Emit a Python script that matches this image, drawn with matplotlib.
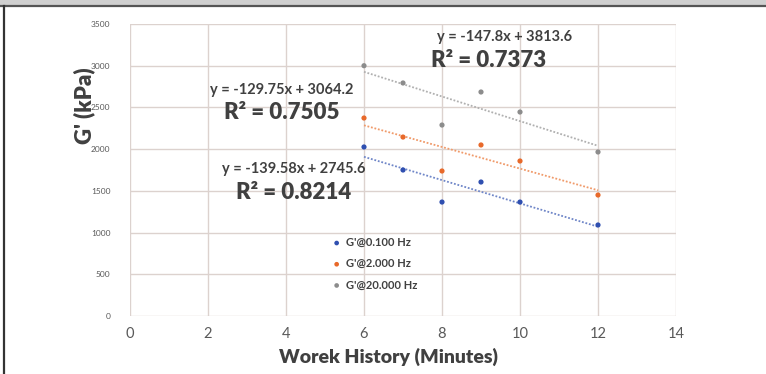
import numpy as np
import matplotlib.pyplot as plt
from matplotlib.lines import Line2D

plt.rcParams['font.family'] = ['Lato', 'DejaVu Sans']

# work history (minutes) and storage modulus G' (kPa) at three frequencies
minutes = [6, 7, 8, 9, 10, 12]
g_0100hz = [2026, 1750, 1366, 1606, 1366, 1091]
g_2000hz = [2373, 2145, 1738, 2050, 1858, 1450]
g_20000hz = [3000, 2793, 2289, 2685, 2445, 1966]

series_names = ["G'@0.100 Hz", "G'@2.000 Hz", "G'@20.000 Hz"]
# linear trendlines (slope, intercept, R^2)
fits = [(-139.58, 2745.6, 0.8214), (-129.75, 3064.2, 0.7505), (-147.8, 3813.6, 0.7373)]

colors = ['#2f4fb0', '#e8692a', '#8c8c8c']
trend_colors = ['#6f86c8', '#f09a6a', '#b0b0b0']
text_col = '#404040'

fig = plt.figure(figsize=(7.66, 3.74), dpi=100)
fig.patch.set_facecolor('white')

# frame: grey strip on top, dark rule underneath and at the left edge
fig.patches.append(plt.Rectangle((0, 1 - 5 / 374), 1, 5 / 374, transform=fig.transFigure,
                                 facecolor='#d0d0d0', edgecolor='none'))
fig.lines.append(Line2D([0, 1], [1 - 6 / 374, 1 - 6 / 374], transform=fig.transFigure,
                        color='#555555', lw=1.6))
fig.lines.append(Line2D([3.5 / 766, 3.5 / 766], [0, 1 - 6 / 374], transform=fig.transFigure,
                        color='#333333', lw=1.6))

ax = fig.add_axes([130 / 766, 1 - 316 / 374, 546 / 766, 292 / 374])
ax.set_xlim(0, 14)
ax.set_ylim(0, 3500)
ax.set_xticks(np.arange(0, 15, 2))
ax.set_yticks(np.arange(0, 3501, 500))
ax.grid(True, color='#dcd2ce', lw=1.0)
ax.set_axisbelow(True)
for s in ax.spines.values():
    s.set_visible(False)
ax.tick_params(length=0)
ax.tick_params(axis='x', labelsize=10.5, labelcolor='#595959', pad=8)
ax.tick_params(axis='y', labelsize=6, labelcolor='#595959', pad=14)

for ys, name, c, tc, (m, b, r2) in zip([g_0100hz, g_2000hz, g_20000hz], series_names,
                                       colors, trend_colors, fits):
    ax.scatter(minutes, ys, s=14, color=c, label=name, zorder=3, edgecolors='none')
    xx = np.array([minutes[0], minutes[-1]])
    ax.plot(xx, m * xx + b, ls=(0, (1, 1)), lw=1.3, color=tc, zorder=2)

# trendline equations
labels = [((4.2, 1762), (4.2, 1486), fits[0]),
          ((3.9, 2709), (3.9, 2445), fits[1]),
          ((9.6, 3344), (9.2, 3068), fits[2])]
for (ex, ey), (rx, ry), (m, b, r2) in labels:
    ax.text(ex, ey, 'y = %gx + %g' % (m, b), ha='center', va='center',
            fontsize=10.5, fontweight='bold', color=text_col)
    ax.text(rx, ry, 'R² = %.4f' % r2, ha='center', va='center',
            fontsize=16, fontweight='heavy', color=text_col)

leg = ax.legend(loc='upper left', bbox_to_anchor=(0.35, 0.305), frameon=False,
                prop={'size': 8, 'weight': 'bold'}, handletextpad=0.3,
                labelspacing=0.92, markerscale=0.9, handlelength=1.0)
for t in leg.get_texts():
    t.set_color(text_col)

ax.set_ylabel("G' (kPa)", fontsize=16, fontweight='heavy', color=text_col)
ax.yaxis.set_label_coords(-0.064, 0.719)
ax.set_xlabel('Worek History (Minutes)', fontsize=14, fontweight='heavy', color=text_col)
ax.xaxis.set_label_coords(0.473, -0.11)

fig.savefig('out.png', dpi=100)
